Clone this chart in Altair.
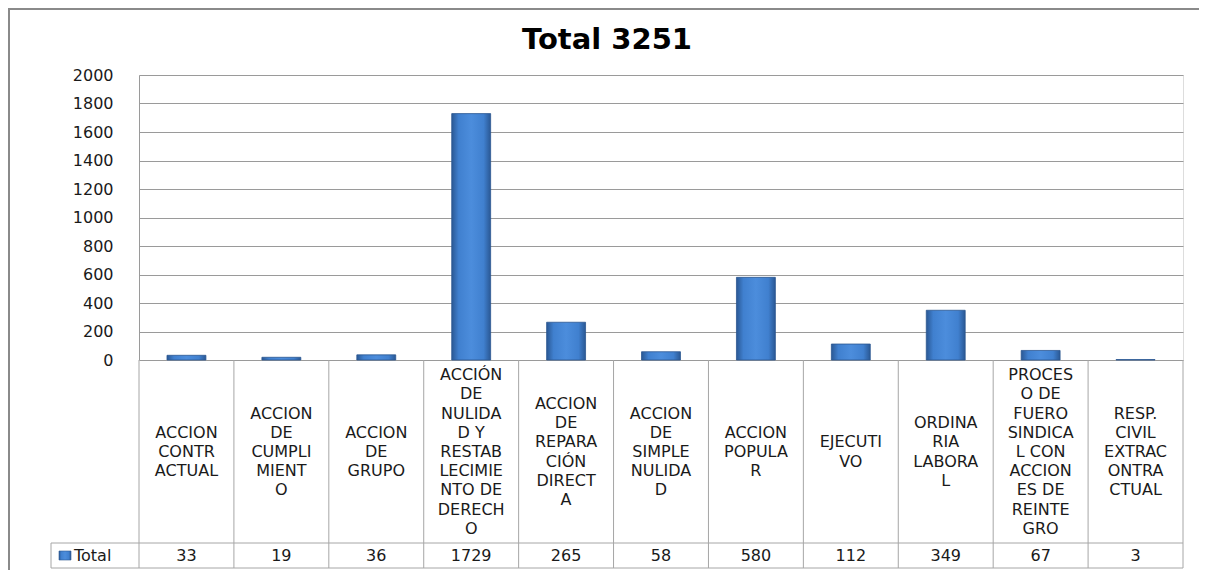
import altair as alt
import pandas as pd

# ---- data ----
categories = [
    "ACCION CONTRACTUAL",
    "ACCION DE CUMPLIMIENTO",
    "ACCION DE GRUPO",
    "ACCIÓN DE NULIDAD Y RESTABLECIMIENTO DE DERECHO",
    "ACCION DE REPARACIÓN DIRECTA",
    "ACCION DE SIMPLE NULIDAD",
    "ACCION POPULAR",
    "EJECUTIVO",
    "ORDINARIA LABORAL",
    "PROCESO DE FUERO SINDICAL CON ACCIONES DE REINTEGRO",
    "RESP. CIVIL EXTRACONTRACTUAL",
]
labels = [
    "ACCION\nCONTR\nACTUAL",
    "ACCION\nDE\nCUMPLI\nMIENT\nO",
    "ACCION\nDE\nGRUPO",
    "ACCIÓN\nDE\nNULIDA\nD Y\nRESTAB\nLECIMIE\nNTO DE\nDERECH\nO",
    "ACCION\nDE\nREPARA\nCIÓN\nDIRECT\nA",
    "ACCION\nDE\nSIMPLE\nNULIDA\nD",
    "ACCION\nPOPULA\nR",
    "EJECUTI\nVO",
    "ORDINA\nRIA\nLABORA\nL",
    "PROCES\nO DE\nFUERO\nSINDICA\nL CON\nACCION\nES DE\nREINTE\nGRO",
    "RESP.\nCIVIL\nEXTRAC\nONTRA\nCTUAL",
]
totals = [33, 19, 36, 1729, 265, 58, 580, 112, 349, 67, 3]
series_name = "Total"
title_text = "Total 3251"
y_ticks = [0, 200, 400, 600, 800, 1000, 1200, 1400, 1600, 1800, 2000]

df = pd.DataFrame({"cat": categories, "label": labels, "value": totals})
df_last = df.tail(1)
one = pd.DataFrame({"k": [0]})

FONT = "DejaVu Sans"
GRID = "#9a9a9a"
LINE = "#a6a6a6"
TXT = "#1a1a1a"

W, H = 1044, 285
TABLE_ROW = 468   # label/value row divider (relative to plot top)
TABLE_BOT = 493
LABEL_MID = 377
VALUE_MID = 481
LH = 19.2

xenc = alt.X("cat:N", sort=categories, axis=None,
             scale=alt.Scale(paddingInner=0, paddingOuter=0))

bar_grad = alt.LinearGradient(
    gradient="linear", x1=0, x2=1, y1=0, y2=0,
    stops=[
        alt.GradientStop(color="#2a5894", offset=0),
        alt.GradientStop(color="#4080cf", offset=0.18),
        alt.GradientStop(color="#4c8ddc", offset=0.5),
        alt.GradientStop(color="#4080cf", offset=0.82),
        alt.GradientStop(color="#2a5894", offset=1),
    ],
)

bars = alt.Chart(df).mark_bar(
    width={"band": 0.41}, color=bar_grad, stroke="#2b5790", strokeWidth=0.8
).encode(
    x=xenc,
    y=alt.Y("value:Q", scale=alt.Scale(domain=[0, 2000], nice=False),
            axis=alt.Axis(values=y_ticks, format="d", title=None, grid=True, gridColor=GRID,
                          gridWidth=1, ticks=False, domain=True, domainColor=GRID,
                          labelFont=FONT, labelFontSize=16, labelColor=TXT,
                          labelPadding=26)),
)

# table: vertical cell borders
vlines = alt.Chart(df).mark_rule(color=LINE, strokeWidth=1).encode(
    x=alt.X("cat:N", sort=categories, axis=None, bandPosition=0,
            scale=alt.Scale(paddingInner=0, paddingOuter=0)),
    y=alt.value(H), y2=alt.value(TABLE_BOT),
)
vline_end = alt.Chart(df_last).mark_rule(color=LINE, strokeWidth=1).encode(
    x=alt.X("cat:N", sort=categories, axis=None, bandPosition=1,
            scale=alt.Scale(paddingInner=0, paddingOuter=0)),
    y=alt.value(H), y2=alt.value(TABLE_BOT),
)
hlines = alt.Chart(pd.DataFrame({"yy": [TABLE_ROW, TABLE_BOT]})).mark_rule(
    color=LINE, strokeWidth=1
).encode(x=alt.value(-88), x2=alt.value(W), y=alt.Y("yy:Q", scale=None))
header_left = alt.Chart(one).mark_rule(color=LINE, strokeWidth=1).encode(
    x=alt.value(-88), y=alt.value(TABLE_ROW), y2=alt.value(TABLE_BOT)
)

label_text = alt.Chart(df).transform_calculate(
    ly=f"{LABEL_MID} - (length(split(datum.label, '\\n')) - 1) * {LH / 2}"
).mark_text(
    font=FONT, fontSize=16, color=TXT, lineBreak="\n", lineHeight=LH,
    baseline="middle", align="center"
).encode(x=xenc, y=alt.Y("ly:Q", scale=None), text="label:N")

value_text = alt.Chart(df).mark_text(
    font=FONT, fontSize=16, color=TXT, baseline="middle", align="center"
).encode(x=xenc, y=alt.value(VALUE_MID), text="value:Q")

swatch = alt.Chart(one).mark_rect(color=bar_grad, stroke="#2b5790", strokeWidth=0.6).encode(
    x=alt.value(-80), x2=alt.value(-68), y=alt.value(VALUE_MID - 5), y2=alt.value(VALUE_MID + 4)
)
header_text = alt.Chart(pd.DataFrame({"t": [series_name]})).mark_text(
    font=FONT, fontSize=16, color=TXT, align="left", baseline="middle"
).encode(x=alt.value(-65), y=alt.value(VALUE_MID), text="t:N")

title = alt.Chart(pd.DataFrame({"t": [title_text]})).mark_text(
    font=FONT, fontSize=29, fontWeight="bold", color="#000000",
    align="center", baseline="alphabetic"
).encode(x=alt.value(468), y=alt.value(-26), text="t:N")

frame = alt.Chart(one).mark_rect(fill=None, stroke="#8a8a8a", strokeWidth=2).encode(
    x=alt.value(-130), x2=alt.value(W + 200), y=alt.value(-66), y2=alt.value(H + 400)
)

chart = alt.layer(
    frame, bars, vlines, vline_end, hlines, header_left, label_text, value_text,
    swatch, header_text, title
).properties(
    width=W, height=H,
    autosize=alt.AutoSizeParams(type="none"),
    padding={"left": 131, "top": 67, "right": 16, "bottom": 210},
).configure_view(stroke=None).configure(background="white")

chart.save("out.html", embed_options={"renderer": "svg", "actions": False})
